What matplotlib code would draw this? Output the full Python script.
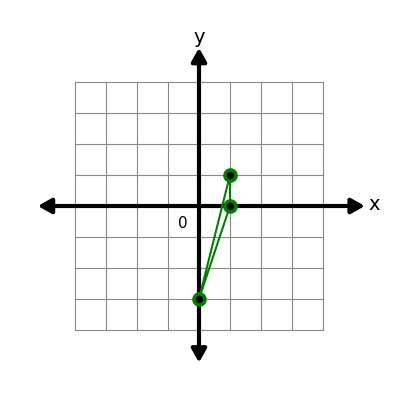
import matplotlib
matplotlib.use("Agg")
import matplotlib.pyplot as plt

xs = [1, 1, 0]
ys = [1, 0, -3]

fig = plt.figure(figsize=(4, 4), dpi=100)
ax = fig.add_axes([0, 0, 1, 1])
ax.set_xlim(-199/31, 201/31)
ax.set_ylim(-194/31, 206/31)
ax.axis('off')

for v in range(-4, 5):
    ax.plot([v, v], [-4, 4], color='#888888', lw=0.8, zorder=1)
    ax.plot([-4, 4], [v, v], color='#888888', lw=0.8, zorder=1)

kw = dict(arrowstyle='<|-|>,head_length=0.8,head_width=0.45', color='black', lw=3, shrinkA=0, shrinkB=0)
ax.annotate('', xy=(5.35, 0), xytext=(-5.2, 0), arrowprops=kw, zorder=3)
ax.annotate('', xy=(0, 5.1), xytext=(0, -5.05), arrowprops=kw, zorder=3)

ax.text(5.45, 0.05, 'x', fontsize=14, ha='left', va='center')
ax.text(0, 5.45, 'y', fontsize=14, ha='center', va='center')
ax.text(-0.52, -0.55, '0', fontsize=11, ha='center', va='center')

ax.plot(xs + [xs[0]], ys + [ys[0]], color='green', lw=1.5, zorder=4)
ax.plot(xs, ys, 'o', ms=8, mfc='black', mec='green', mew=2.5, zorder=5)

fig.savefig('out.png', dpi=100)
